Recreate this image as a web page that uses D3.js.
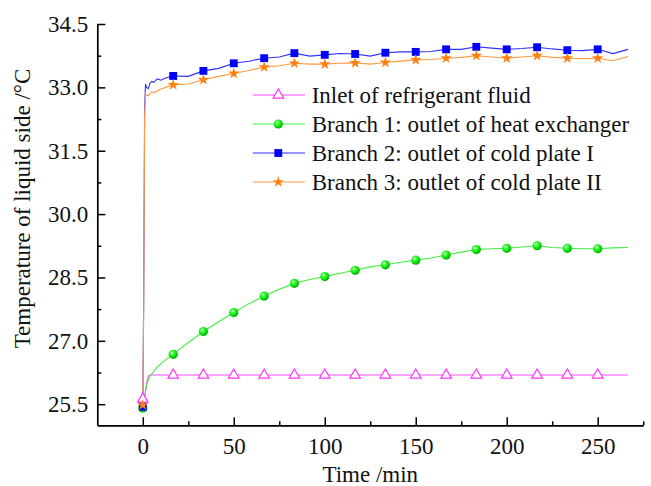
<!DOCTYPE html>
<html>
<head>
<meta charset="utf-8">
<script src="https://d3js.org/d3.v7.min.js"></script>
<style>
  body { margin: 0; background: #fff; }
  svg text { font-family: "Liberation Serif", "Tinos", "Times New Roman", "Times", "DejaVu Serif", "Noto Serif", serif !important; }
</style>
</head>
<body>
<div id="chart"></div>
<script>
// time axis (min) shared by all curves
const timeMin = [0, 0.5, 1, 1.5, 2, 3, 4, 5, 6, 8, 10, 12.5,
  16.7, 25, 33.3, 41.7, 50, 58.3, 66.7, 75, 83.3, 91.7, 100, 108.3, 116.7, 125,
  133.3, 141.7, 150, 158.3, 166.7, 175, 183.3, 191.7, 200, 208.3, 216.7, 225,
  233.3, 241.7, 250, 258.3, 266.7];

// times carrying a symbol
const markerTimes = [0, 16.7, 33.3, 50, 66.7, 83.3, 100, 116.7, 133.3, 150,
  166.7, 183.3, 200, 216.7, 233.3, 250];

const inletTemp = [25.62, 25.63, 25.68, 25.80, 25.98, 26.16, 26.19, 26.19, 26.19, 26.19, 26.19, 26.19,
  26.19, 26.19, 26.19, 26.19, 26.19, 26.19, 26.19, 26.19, 26.19, 26.19, 26.19, 26.19, 26.19, 26.19,
  26.19, 26.19, 26.19, 26.19, 26.19, 26.19, 26.19, 26.19, 26.19, 26.19, 26.19, 26.19,
  26.19, 26.19, 26.19, 26.19, 26.19];

const branch1Temp = [25.41, 25.52, 25.66, 25.80, 25.92, 26.07, 26.16, 26.22, 26.28, 26.38, 26.46, 26.55,
  26.68, 26.96, 27.22, 27.45, 27.67, 27.88, 28.06, 28.22, 28.36, 28.45, 28.52, 28.60, 28.67, 28.75,
  28.80, 28.86, 28.91, 28.96, 29.03, 29.10, 29.16, 29.18, 29.19, 29.22, 29.25, 29.21,
  29.19, 29.18, 29.18, 29.20, 29.21];

const branch2Temp = [25.44, 28.00, 32.50, 33.08, 33.00, 32.97, 33.10, 33.14, 33.12, 33.20, 33.17, 33.22,
  33.27, 33.26, 33.39, 33.45, 33.57, 33.62, 33.69, 33.72, 33.81, 33.74, 33.77, 33.80, 33.79, 33.74,
  33.82, 33.84, 33.84, 33.85, 33.90, 33.90, 33.96, 33.93, 33.90, 33.92, 33.95, 33.91,
  33.88, 33.87, 33.90, 33.80, 33.90];

const branch3Temp = [25.48, 27.80, 32.30, 32.86, 32.82, 32.80, 32.86, 32.90, 32.87, 32.92, 32.96, 33.00,
  33.06, 33.08, 33.18, 33.26, 33.33, 33.40, 33.48, 33.51, 33.57, 33.55, 33.55, 33.57, 33.58, 33.55,
  33.59, 33.62, 33.65, 33.66, 33.69, 33.71, 33.75, 33.72, 33.69, 33.72, 33.75, 33.71,
  33.69, 33.68, 33.69, 33.63, 33.73];

const seriesNames = [
  "Inlet of refrigerant fluid",
  "Branch 1: outlet of heat exchanger",
  "Branch 2: outlet of cold plate I",
  "Branch 3: outlet of cold plate II"
];

const yMajorTicks = [25.5, 27.0, 28.5, 30.0, 31.5, 33.0, 34.5];
const yMinorTicks = [26.25, 27.75, 29.25, 30.75, 32.25, 33.75];
const xMajorTicks = [0, 50, 100, 150, 200, 250];
const xMinorTicks = [25, 75, 125, 175, 225, 275];

// Set chart dimensions
const margin = { top: 24, right: 7.8, bottom: 60.7, left: 97.3 };
const totalW = 651, totalH = 486;
const width = totalW - margin.left - margin.right;
const height = totalH - margin.top - margin.bottom;

const root = d3.select("#chart")
  .append("svg")
  .attr("width", totalW)
  .attr("height", totalH);

const defs = root.append("defs");
const grad = defs.append("radialGradient")
  .attr("id", "ball")
  .attr("cx", "38%").attr("cy", "35%").attr("r", "65%");
grad.append("stop").attr("offset", "0%").attr("stop-color", "#ffffff");
grad.append("stop").attr("offset", "25%").attr("stop-color", "#4dff4d");
grad.append("stop").attr("offset", "70%").attr("stop-color", "#00e000");
grad.append("stop").attr("offset", "100%").attr("stop-color", "#00a800");

const svg = root.append("g")
  .attr("transform", `translate(${margin.left},${margin.top})`);

// scales
const x = d3.scaleLinear().domain([-25, 275]).range([0, width]);
const y = d3.scaleLinear().domain([25.0, 34.5]).range([height, 0]);

// series config
const series = [
  { name: seriesNames[0], values: inletTemp, line: "#ff4dff", sym: "triangle" },
  { name: seriesNames[1], values: branch1Temp, line: "#40f040", sym: "ball" },
  { name: seriesNames[2], values: branch2Temp, line: "#3030ff", sym: "square" },
  { name: seriesNames[3], values: branch3Temp, line: "#ff9a40", sym: "star" }
];

function drawSymbol(g, type) {
  if (type === "triangle") {
    g.append("path")
      .attr("d", d3.symbol(d3.symbolTriangle, 48)())
      .attr("fill", "#fff")
      .attr("stroke", "#ff33ff")
      .attr("stroke-width", 1.2);
  } else if (type === "ball") {
    g.append("circle").attr("r", 4.6).attr("fill", "url(#ball)");
  } else if (type === "square") {
    g.append("path")
      .attr("d", d3.symbol(d3.symbolSquare, 62)())
      .attr("fill", "#0000ff");
  } else {
    g.append("path")
      .attr("d", d3.symbol(d3.symbolStar, 40)())
      .attr("fill", "#ff8010");
  }
}

// lines
const line = d3.line()
  .x(d => x(d.t))
  .y(d => y(d.v));

series.forEach(s => {
  const pts = timeMin.map((t, i) => ({ t: t, v: s.values[i] }));
  svg.append("path")
    .datum(pts)
    .attr("fill", "none")
    .attr("stroke", s.line)
    .attr("stroke-width", 1.1)
    .attr("d", line);
});

// markers
series.forEach(s => {
  const pts = timeMin
    .map((t, i) => ({ t: t, v: s.values[i] }))
    .filter(d => markerTimes.includes(d.t));
  pts.forEach(d => {
    const g = svg.append("g").attr("transform", `translate(${x(d.t)},${y(d.v)})`);
    drawSymbol(g, s.sym);
  });
});

// axes
const fontSize = 23;

const yAxis = svg.append("g")
  .call(d3.axisLeft(y).tickValues(yMajorTicks).tickFormat(d3.format(".1f"))
    .tickSizeInner(-8).tickSizeOuter(0).tickPadding(9));
yAxis.append("g")
  .call(d3.axisLeft(y).tickValues(yMinorTicks).tickFormat("").tickSizeInner(-4).tickSizeOuter(0))
  .select(".domain").remove();

const xAxis = svg.append("g")
  .attr("transform", `translate(0,${height})`)
  .call(d3.axisBottom(x).tickValues(xMajorTicks).tickFormat(d3.format("d"))
    .tickSizeInner(-8).tickSizeOuter(0).tickPadding(12));
xAxis.append("g")
  .call(d3.axisBottom(x).tickValues(xMinorTicks).tickFormat("").tickSizeInner(-4).tickSizeOuter(0))
  .select(".domain").remove();

svg.selectAll(".domain").attr("stroke", "#000").attr("stroke-width", 1.7);
svg.selectAll(".tick line").attr("stroke", "#000").attr("stroke-width", 1.5);
svg.selectAll(".tick text")
  .attr("fill", "#111")
  .style("font-size", fontSize + "px");

// axis titles
root.append("text")
  .attr("transform", "translate(30,208.5) rotate(-90)")
  .attr("text-anchor", "middle")
  .style("font-size", fontSize + "px")
  .attr("fill", "#111")
  .text("Temperature of liquid side /°C");

root.append("text")
  .attr("x", margin.left + width / 2)
  .attr("y", 482)
  .attr("text-anchor", "middle")
  .style("font-size", fontSize + "px")
  .attr("fill", "#111")
  .text("Time /min");

// Legend
const legend = root.selectAll(".legend")
  .data(series)
  .enter()
  .append("g")
  .attr("class", "legend")
  .attr("transform", (d, i) => `translate(252.7, ${95 + i * 29})`);

legend.append("line")
  .attr("x1", 0).attr("x2", 52.3)
  .attr("y1", 0).attr("y2", 0)
  .attr("stroke", d => d.line)
  .attr("stroke-width", 1.2);

legend.each(function(d) {
  const g = d3.select(this).append("g").attr("transform", "translate(25.6,0)");
  drawSymbol(g, d.sym);
});

legend.append("text")
  .attr("x", 59)
  .attr("y", 8)
  .style("font-size", fontSize + "px")
  .attr("fill", "#111")
  .text(d => d.name);
</script>
</body>
</html>
